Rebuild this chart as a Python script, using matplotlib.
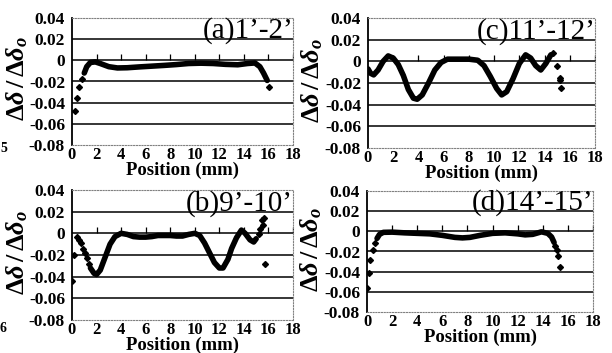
import matplotlib
matplotlib.use("Agg")
import matplotlib.pyplot as plt

plt.rcParams['font.family'] = ['Liberation Serif', 'DejaVu Serif']
plt.rcParams['mathtext.fontset'] = 'custom'
plt.rcParams['mathtext.rm'] = 'Liberation Serif:bold'
plt.rcParams['mathtext.it'] = 'Liberation Serif:italic:bold'
plt.rcParams['mathtext.bf'] = 'Liberation Serif:bold'

# dane
xa = [1.0, 1.2, 1.5, 1.9, 2.3, 3.0, 3.7, 4.5, 5.5, 6.5, 7.5, 8.5, 9.5, 10.5,
      11.5, 12.5, 13.5, 14.3, 14.9, 15.3, 15.6, 15.9]
ya = [-0.012, -0.006, -0.002, -0.0015, -0.003, -0.006, -0.0072, -0.007, -0.0062,
      -0.0055, -0.0048, -0.004, -0.003, -0.0027, -0.003, -0.0038, -0.0042, -0.003,
      -0.0025, -0.006, -0.012, -0.019]
xa_pkt = [0.25, 0.4, 0.6, 0.8, 16.05]
ya_pkt = [-0.048, -0.036, -0.025, -0.018, -0.025]

xb = [1.5, 1.8, 2.0, 2.3, 2.7, 3.1, 3.5, 4.0, 4.5, 5.0, 5.5, 6.0, 6.5, 7.0, 7.5,
      8.0, 8.5, 9.0, 9.5, 10.0, 10.4, 10.8, 11.2, 11.6, 12.0, 12.3, 12.7, 13.0,
      13.4, 13.8, 14.1, 14.5, 14.8, 15.0]
yb = [-0.032, -0.037, -0.038, -0.034, -0.022, -0.010, -0.003, 0.0, -0.001, -0.003,
      -0.0035, -0.0035, -0.003, -0.002, -0.002, -0.002, -0.0025, -0.0025, -0.001,
      0.0, -0.002, -0.009, -0.018, -0.027, -0.032, -0.032, -0.024, -0.014, -0.004,
      0.003, 0.0, -0.006, -0.008, -0.005]
xb_pkt = [0.0, 0.15, 0.4, 0.6, 0.75, 0.9, 1.05, 1.2, 1.35, 15.2, 15.35, 15.45,
          15.55, 15.65, 15.7]
yb_pkt = [-0.044, -0.020, -0.003, -0.006, -0.009, -0.014, -0.018, -0.023, -0.028,
          -0.001, 0.004, 0.012, 0.008, 0.014, -0.028]

xc = [0.0, 0.2, 0.45, 0.8, 1.2, 1.6, 2.0, 2.4, 2.8, 3.2, 3.6, 3.9, 4.3, 4.8, 5.3,
      5.8, 6.3, 7.0, 8.0, 8.7, 9.2, 9.7, 10.2, 10.6, 11.0, 11.5, 12.0, 12.5, 12.9,
      13.3, 13.7, 14.1, 14.5]
yc = [-0.007, -0.011, -0.0125, -0.008, 0.0, 0.005, 0.003, -0.003, -0.013, -0.026,
      -0.034, -0.035, -0.031, -0.020, -0.008, -0.001, 0.002, 0.002, 0.002, 0.001,
      -0.004, -0.014, -0.025, -0.031, -0.028, -0.016, -0.002, 0.006, 0.003, -0.004,
      -0.008, -0.002, 0.006]
xc_pkt = [14.7, 14.95, 15.2, 15.25, 15.3]
yc_pkt = [0.008, -0.004, -0.015, -0.017, -0.025]

xd = [0.8, 1.0, 1.3, 2.0, 3.0, 4.0, 5.0, 6.0, 7.0, 7.6, 8.2, 9.0, 10.0, 11.0,
      12.0, 12.6, 13.2, 13.9, 14.4, 14.7, 14.9]
yd = [-0.007, -0.003, -0.001, -0.0008, -0.0015, -0.002, -0.0025, -0.004, -0.006,
      -0.0065, -0.006, -0.004, -0.002, -0.0015, -0.0025, -0.0035, -0.003, -0.0005,
      -0.002, -0.0056, -0.011]
xd_pkt = [0.0, 0.13, 0.27, 0.48, 0.66, 15.0, 15.1, 15.2, 15.35]
yd_pkt = [-0.056, -0.041, -0.0285, -0.019, -0.012, -0.015, -0.019, -0.024, -0.035]

y_ticks = [0.04, 0.02, 0, -0.02, -0.04, -0.06, -0.08]
y_podpisy = ['0.04', '0.02', '0', '-0.02', '-0.04', '-0.06', '-0.08']
x_ticks = list(range(0, 19, 2))

panele = [
    ([72, 18, 293, 145], xa, ya, xa_pkt, ya_pkt, "(a)1\u2019-2\u2019"),
    ([368, 18, 595, 148], xc, yc, xc_pkt, yc_pkt, "(c)11\u2019-12\u2019"),
    ([72, 190, 293, 320], xb, yb, xb_pkt, yb_pkt, "(b)9\u2019-10\u2019"),
    ([367, 191, 593, 312], xd, yd, xd_pkt, yd_pkt, "(d)14\u2019-15\u2019"),
]

W, H = 612, 353
fig = plt.figure(figsize=(6.12, 3.53), dpi=100)

for (l, t, r, b), x, y, xp, yp, tytul in panele:
    ax = fig.add_axes([l / W, 1 - b / H, (r - l) / W, (b - t) / H])
    ax.plot(x, y, color='black', lw=4, solid_capstyle='round', zorder=3)
    ax.plot(xp, yp, 'D', color='black', ms=3, zorder=3)
    # małe kreski na osi zera
    ax.plot(x_ticks[1:], [0] * len(x_ticks[1:]), ls='none', marker=2,
            ms=4, mew=0.9, color='black', zorder=2)
    ax.set_xlim(0, 18)
    ax.set_ylim(-0.08, 0.04)
    ax.set_yticks(y_ticks)
    ax.set_yticklabels(y_podpisy, fontweight='bold', fontsize=12.5)
    ax.set_xticks(x_ticks)
    ax.set_xticklabels([str(v) for v in x_ticks], fontweight='bold', fontsize=12)
    ax.tick_params(axis='y', length=0, pad=5)
    ax.tick_params(axis='x', length=0, pad=1.5)
    ax.grid(axis='y', color='black', lw=1.1)
    gl = ax.get_ygridlines()
    gl[0].set_visible(False)
    gl[-1].set_visible(False)
    ax.set_axisbelow(True)
    for s in ['top', 'right', 'bottom']:
        ax.spines[s].set_color('0.5')
        ax.spines[s].set_linestyle((0, (1, 1.5)))
        ax.spines[s].set_linewidth(0.8)
    ax.spines['left'].set_linewidth(1.3)
    ax.set_xlabel('Position (mm)', fontweight='bold', fontsize=13.5, labelpad=-1)
    ax.set_ylabel(r'$\mathit{\Delta\delta\,/\,\Delta\delta_{o}}$', fontsize=19)
    ax.yaxis.set_label_coords(-0.19, 0.52)
    ax.text(18, 0.021, tytul, ha='right', va='baseline', fontsize=21,
            color='black')

fig.text(0.0, 1 - 152 / H, '5', fontweight='bold', fontsize=10, ha='left')
fig.text(0.0, 1 - 332 / H, '6', fontweight='bold', fontsize=10, ha='left')

plt.savefig('out.png', dpi=100)
